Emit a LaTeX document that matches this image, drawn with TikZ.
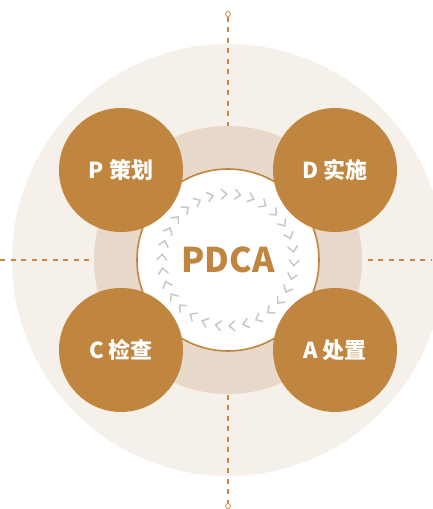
\documentclass[tikz,border=0pt]{standalone}
\usepackage{fontspec}
\newfontfamily\cjk{Noto Sans CJK SC}
\usepackage{tikz}
\definecolor{outerbg}{HTML}{F6F0EA}
\definecolor{ringbg}{HTML}{E8D8C9}
\definecolor{brown}{HTML}{C0853F}
\definecolor{dashc}{HTML}{C8874A}
\definecolor{chevc}{HTML}{C8C8C8}
\tikzset{
  phase/.style={circle, fill=brown, inner sep=0pt, minimum size=124pt, text=white, font=\cjk\bfseries\fontsize{22}{24}\selectfont},
  guide/.style={dashc, line width=1.3pt, dash pattern=on 5pt off 5.5pt},
  enddot/.style={circle, draw=dashc, fill=white, line width=0.8pt, inner sep=0pt, minimum size=5pt},
  chev/.style={chevc, line width=1.5pt}
}
\begin{document}
\begin{tikzpicture}[x=1pt,y=1pt]
    \useasboundingbox (0,0) rectangle (432,509);
    \coordinate (o) at (228,249);
    \fill[outerbg] (o) circle (216);
    \node[enddot] (topdot) at (228,495) {};
    \node[enddot] (botdot) at (228,3) {};
    \coordinate (lft) at (0,249);
    \coordinate (rgt) at (432,249);
    \draw[guide] (topdot) to (botdot);
    \draw[guide] (lft) to (rgt);
    \fill[ringbg] (o) circle (134);
    \draw[brown, fill=white, line width=1.6pt] (o) circle (91);
    \foreach \i in {0,...,29}
      \draw[chev, shift={(o)}, rotate={93-\i*12}] (61,3.5) -- (66,-2.2) -- (71,3.5);
    \node[text=brown, font=\cjk\bfseries\fontsize{34}{37}\selectfont] (pdca) at (o) {PDCA};
    \node[phase] (P) at (121,339) {P 策划};
    \node[phase] (D) at (335,339) {D 实施};
    \node[phase] (C) at (121,159) {C 检查};
    \node[phase] (A) at (335,159) {A 处置};
  \end{tikzpicture}
\end{document}
